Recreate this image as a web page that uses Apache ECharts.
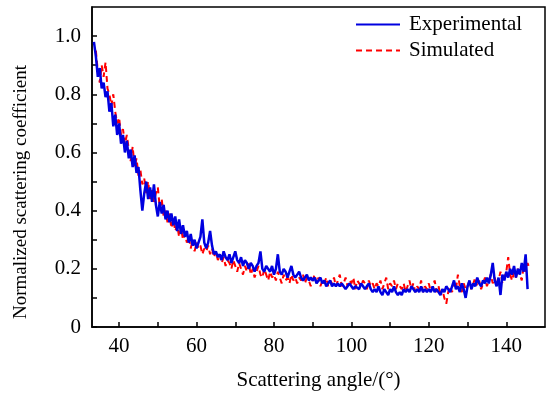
<!DOCTYPE html>
<html>
<head>
<meta charset="utf-8">
<script src="https://cdn.jsdelivr.net/npm/echarts@6/dist/echarts.min.js"></script>
<style>html,body{margin:0;padding:0;background:#fff}#c{width:550px;height:394px}</style>
</head>
<body>
<div id="c"></div>
<script>
// Sampling grid (degrees)
var expStart = 33.5, simStart = 34.0, angleStep = 0.5;
// Experimental normalized scattering coefficient (blue, solid)
var experimental = [
0.98,0.93,0.86,0.89,0.82,0.84,0.79,0.81,0.74,0.77,0.69,0.73,0.66,0.70,0.63,0.66,0.60,0.64,0.58,0.61,
0.55,0.59,0.53,0.55,0.47,0.40,0.46,0.50,0.44,0.48,0.43,0.49,0.42,0.38,0.43,0.39,0.42,0.37,0.40,0.36,
0.39,0.35,0.38,0.33,0.37,0.32,0.35,0.31,0.33,0.29,0.32,0.28,0.30,0.27,0.29,0.31,0.37,0.29,0.27,0.29,
0.33,0.28,0.25,0.26,0.24,0.25,0.23,0.26,0.24,0.23,0.25,0.22,0.24,0.26,0.23,0.22,0.24,0.21,0.23,0.22,
0.20,0.22,0.21,0.19,0.21,0.22,0.26,0.20,0.19,0.21,0.20,0.19,0.21,0.18,0.20,0.25,0.19,0.18,0.20,0.19,
0.17,0.19,0.21,0.18,0.17,0.18,0.19,0.17,0.16,0.17,0.18,0.16,0.17,0.16,0.17,0.15,0.16,0.17,0.15,0.16,
0.14,0.15,0.16,0.14,0.15,0.14,0.15,0.14,0.15,0.14,0.13,0.14,0.15,0.14,0.13,0.14,0.14,0.13,0.15,0.14,
0.13,0.14,0.15,0.13,0.12,0.13,0.12,0.14,0.12,0.11,0.13,0.12,0.11,0.13,0.12,0.14,0.12,0.11,0.12,0.11,
0.13,0.12,0.13,0.12,0.14,0.13,0.12,0.13,0.12,0.14,0.12,0.13,0.12,0.13,0.12,0.14,0.12,0.13,0.12,0.11,
0.13,0.12,0.14,0.13,0.12,0.14,0.16,0.13,0.14,0.12,0.15,0.13,0.10,0.14,0.16,0.13,0.15,0.14,0.17,0.15,
0.14,0.16,0.15,0.17,0.15,0.18,0.22,0.16,0.14,0.17,0.11,0.18,0.16,0.19,0.17,0.20,0.18,0.21,0.17,0.20,
0.18,0.22,0.19,0.25,0.13
];
// Simulated normalized scattering coefficient (red, dashed)
var simulated = [
0.95,0.88,0.84,0.90,0.86,0.91,0.82,0.80,0.76,0.80,0.74,0.70,0.72,0.66,0.68,0.63,0.66,0.61,0.57,0.62,
0.55,0.58,0.52,0.54,0.49,0.51,0.46,0.50,0.44,0.47,0.43,0.46,0.48,0.41,0.44,0.38,0.40,0.36,0.39,0.34,
0.37,0.33,0.35,0.31,0.34,0.30,0.32,0.29,0.31,0.27,0.30,0.26,0.29,0.27,0.28,0.25,0.27,0.26,0.28,0.25,
0.27,0.24,0.26,0.23,0.25,0.22,0.24,0.21,0.23,0.22,0.20,0.23,0.21,0.19,0.22,0.20,0.18,0.21,0.19,0.22,
0.18,0.20,0.17,0.19,0.21,0.18,0.17,0.20,0.18,0.16,0.19,0.17,0.18,0.16,0.19,0.17,0.15,0.18,0.16,0.17,
0.15,0.18,0.16,0.17,0.15,0.17,0.16,0.18,0.15,0.17,0.16,0.14,0.16,0.18,0.15,0.17,0.14,0.16,0.15,0.17,
0.14,0.16,0.15,0.17,0.14,0.16,0.18,0.14,0.15,0.17,0.14,0.16,0.15,0.17,0.13,0.16,0.15,0.14,0.16,0.15,
0.13,0.16,0.14,0.15,0.13,0.15,0.14,0.16,0.13,0.15,0.17,0.13,0.15,0.14,0.16,0.13,0.15,0.14,0.13,0.15,
0.12,0.14,0.16,0.13,0.15,0.12,0.14,0.13,0.16,0.12,0.14,0.13,0.15,0.12,0.14,0.16,0.12,0.14,0.11,0.13,
0.10,0.08,0.12,0.14,0.12,0.15,0.13,0.18,0.14,0.12,0.15,0.13,0.14,0.16,0.13,0.15,0.17,0.14,0.16,0.13,
0.15,0.17,0.14,0.16,0.18,0.15,0.17,0.14,0.16,0.19,0.15,0.17,0.19,0.24,0.18,0.16,0.19,0.17,0.20,0.18,
0.16,0.21,0.19,0.22,0.20
];
var xTicks = [40,50,60,70,80,90,100,110,120,130,140];
var xLabels = [40,60,80,100,120,140];
var yTicks = [0,0.1,0.2,0.3,0.4,0.5,0.6,0.7,0.8,0.9,1.0];
var yLabels = [0,0.2,0.4,0.6,0.8,1.0];
var yTitle = 'Normalized scattering coefficient';

function pairs(start, vals){ return vals.map(function(v,i){ return [start + i*angleStep, v]; }); }

var font = '"Liberation Serif","Times New Roman",serif';
var chart = echarts.init(document.getElementById('c'), null, {renderer:'canvas'});
chart.setOption({
  animation:false,
  backgroundColor:'#fff',
  grid:{left:92,right:5,top:7,bottom:67,show:true,borderColor:'#000',borderWidth:1.5,
    backgroundColor:'transparent',containLabel:false,outerBoundsMode:'none'},
  graphic:[{
    type:'text', x:21, y:192, rotation:Math.PI/2,
    style:{text:yTitle, fontFamily:font, fontSize:19, fill:'#000', align:'center', verticalAlign:'middle'}
  }],
  legend:{
    left:350, top:9, orient:'vertical', itemWidth:44, itemHeight:14, itemGap:5,
    data:['Experimental','Simulated'],
    itemStyle:{color:'transparent',borderWidth:0,opacity:0},
    textStyle:{fontFamily:font,fontSize:21,color:'#000',padding:[0,0,0,4]}
  },
  xAxis:{
    type:'value', min:33, max:150,
    name:'Scattering angle/(°)', nameLocation:'middle', nameGap:43,
    nameTextStyle:{fontFamily:font,fontSize:21,color:'#000'},
    axisLine:{show:true,lineStyle:{color:'#000',width:1.5}},
    axisTick:{show:true,inside:true,length:5,lineStyle:{color:'#000',width:1.5},customValues:xTicks},
    axisLabel:{fontFamily:font,fontSize:21,color:'#000',margin:9,customValues:xLabels},
    splitLine:{show:false}
  },
  yAxis:{
    type:'value', min:0, max:1.1,
    axisLine:{show:true,lineStyle:{color:'#000',width:1.5}},
    axisTick:{show:true,inside:true,length:5,lineStyle:{color:'#000',width:1.5},customValues:yTicks},
    axisLabel:{fontFamily:font,fontSize:21,color:'#000',margin:11,customValues:yLabels,
      formatter:function(v){ return v===0 ? '0' : v.toFixed(1); }},
    splitLine:{show:false}
  },
  series:[
    {name:'Simulated', type:'line', data:pairs(simStart, simulated), symbol:'none',
      lineStyle:{color:'#ff0000',width:2,type:[6,4]}, itemStyle:{color:'#ff0000'}},
    {name:'Experimental', type:'line', data:pairs(expStart, experimental), symbol:'none',
      lineStyle:{color:'#0000e0',width:2.5}, itemStyle:{color:'#0000e0'}}
  ]
});
</script>
</body>
</html>
